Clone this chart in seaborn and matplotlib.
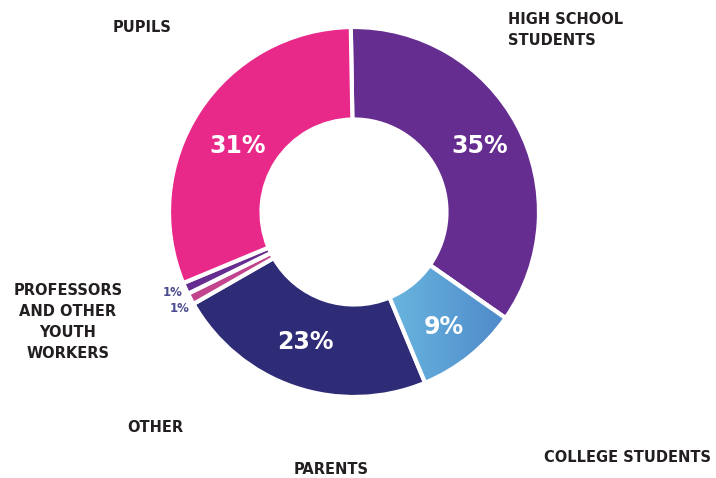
import numpy as np
import matplotlib
matplotlib.use("Agg")
import matplotlib.pyplot as plt
import seaborn as sns

categories = ["High school students", "College students", "Parents", "Other",
              "Professors and other youth workers", "Pupils"]
values = [35, 9, 23, 1, 1, 31]
pct_labels = ["35%", "9%", "23%", "1%", "1%", "31%"]
colors = ["#652D90", "#5A9FD6", "#2E2B77", "#C2448C", "#662D91", "#E8298A"]

sns.set_theme(style="white")
plt.rcParams['font.family'] = ['DejaVu Sans']

fig = plt.figure(figsize=(7.16, 4.78), dpi=100)
W, H = 716, 478
cx, cy, R = 354, 212, 185
ax = fig.add_axes([(cx - R) / W, (H - cy - R) / H, 2 * R / W, 2 * R / H])
wedges, _ = ax.pie(values, colors=colors, startangle=91, counterclock=False,
                   radius=1.0, wedgeprops=dict(width=0.5, edgecolor="white", linewidth=3))
ax.set_xlim(-1, 1)
ax.set_ylim(-1, 1)
ax.set_aspect("equal")
ax.axis("off")

# gradient fill for college students wedge
w = wedges[1]
grad = np.linspace(0, 1, 256).reshape(1, -1)
cmap = matplotlib.colors.LinearSegmentedColormap.from_list("g", ["#6DBCE2", "#4A82C6"])
im = ax.imshow(grad, cmap=cmap, extent=[0.1, 0.92, -1.0, -0.2], aspect="auto", zorder=1.5)
im.set_clip_path(w)
w.set_zorder(1)
ax.set_xlim(-1, 1)
ax.set_ylim(-1, 1)
edge = matplotlib.patches.Wedge(w.center, w.r, w.theta1, w.theta2, width=w.width,
                                facecolor="none", edgecolor="white", linewidth=3, zorder=2)
ax.add_patch(edge)

def ft(px, py, s, **kw):
    fig.text(px / W, 1 - py / H, s, **kw)

dark = "#231F20"
big = dict(color="white", fontsize=17, fontweight="bold", ha="center", va="center")
ft(480, 146, pct_labels[0], **big)
ft(444, 327, pct_labels[1], **big)
ft(305, 342, pct_labels[2], **big)
ft(238, 146, pct_labels[5], **big)
small = dict(color="#4B4B8F", fontsize=8.5, fontweight="bold", ha="center", va="center")
ft(173, 292, pct_labels[4], **small)
ft(180, 309, pct_labels[3], **small)

lab = dict(color=dark, fontsize=10.5, fontweight="bold")
ft(142, 28, "PUPILS", ha="center", va="center", **lab)
ft(508, 30, "HIGH SCHOOL\nSTUDENTS", ha="left", va="center", linespacing=1.5, **lab)
ft(68, 322, "PROFESSORS\nAND OTHER\nYOUTH\nWORKERS", ha="center", va="center", linespacing=1.5, **lab)
ft(155, 428, "OTHER", ha="center", va="center", **lab)
ft(331, 470, "PARENTS", ha="center", va="center", **lab)
ft(628, 458, "COLLEGE STUDENTS", ha="center", va="center", **lab)

fig.savefig("out.png", dpi=100, facecolor="white")
